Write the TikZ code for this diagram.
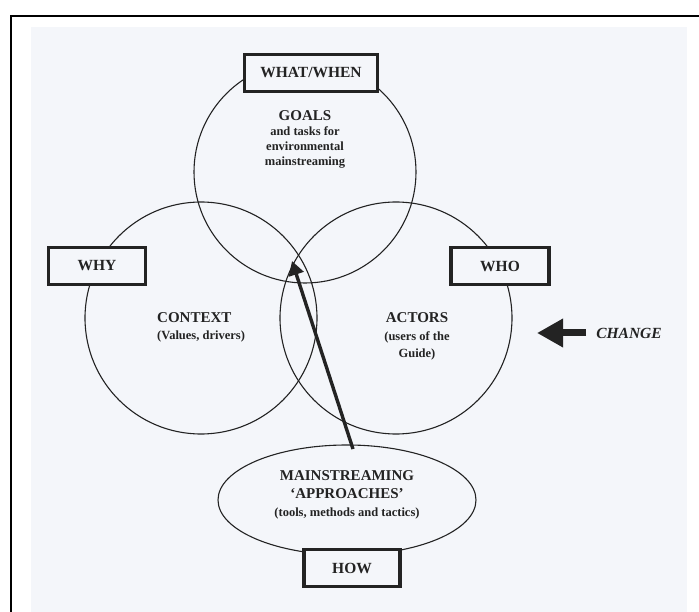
\documentclass[tikz,border=0pt]{standalone}
\usepackage{fontspec}
\setmainfont{Liberation Serif}
\usetikzlibrary{arrows.meta,shapes.geometric}
\definecolor{ink}{RGB}{35,35,35}
\definecolor{scan}{RGB}{244,246,250}
\begin{document}
\begin{tikzpicture}[x=1pt,y=-1pt,
  ring/.style={circle,draw=ink,line width=1.1pt,minimum size=#1,inner sep=0pt},
  tagbox/.style={draw=ink,line width=3.6pt,fill=scan,minimum height=37pt,inner sep=0pt,
     font=\fontsize{15.5}{18}\selectfont\bfseries,text=ink},
  heading/.style={anchor=base,inner sep=0pt,font=\fontsize{15}{18}\selectfont\bfseries,text=ink},
  subtext/.style={anchor=base,inner sep=0pt,font=\fontsize{12.5}{15}\selectfont\bfseries,text=ink}]
% page and scan background
\useasboundingbox (0,0) rectangle (699,612);
\fill[white] (0,0) rectangle (699,612);
\fill[scan] (31,27) rectangle (687,612);
\draw[line width=2.2pt,black] (11,612) -- (11,16) -- (699,16);
% circles and ellipse
\node[ring=222pt] (goalsC) at (305,172) {};
\node[ring=232pt] (contextC) at (201,318) {};
\node[ring=232pt] (actorsC) at (396,318) {};
\node[ellipse,draw=ink,line width=1.1pt,minimum width=258pt,minimum height=110pt,inner sep=0pt] (approachE) at (347,500) {};
% main arrow
\coordinate (atail) at (353,449);
\coordinate (atip) at (292,261);
\draw[ink,line width=3.4pt,-{Triangle[length=14pt,width=15pt]}] (atail) -- (atip);
% change arrow
\coordinate (cstart) at (586,333);
\coordinate (ctip) at (537,333);
\draw[ink,line width=7pt,-{Triangle[length=26pt,width=27pt]}] (cstart) -- (ctip);
\node[anchor=base,inner sep=0pt,font=\fontsize{15.5}{18}\selectfont\bfseries\itshape,text=ink] (change) at (629,338) {CHANGE};
% boxes
\node[tagbox,minimum width=133pt] (whatwhen) at (311,73) {WHAT/WHEN};
\node[tagbox,minimum width=97pt] (why) at (97,266) {WHY};
\node[tagbox,minimum width=98pt] (who) at (500,266) {WHO};
\node[tagbox,minimum width=96pt] (how) at (352,568) {HOW};
% texts
\node[heading] (goals) at (305,121) {GOALS};
\node[subtext] (g1) at (305,136) {and tasks for};
\node[subtext] (g2) at (305,151) {environmental};
\node[subtext] (g3) at (305,166) {mainstreaming};
\node[heading,anchor=base west] (context) at (157,323) {CONTEXT};
\node[subtext,anchor=base west] (c1) at (157,340) {(Values, drivers)};
\node[heading] (actors) at (417,323) {ACTORS};
\node[subtext] (a1) at (417,341) {(users of the};
\node[subtext] (a2) at (417,357) {Guide)};
\node[heading] (ms) at (347,480) {MAINSTREAMING};
\node[heading] (appr) at (347,498) {‘APPROACHES’};
\node[subtext] (tools) at (347,516) {(tools, methods and tactics)};
\end{tikzpicture}
\end{document}
